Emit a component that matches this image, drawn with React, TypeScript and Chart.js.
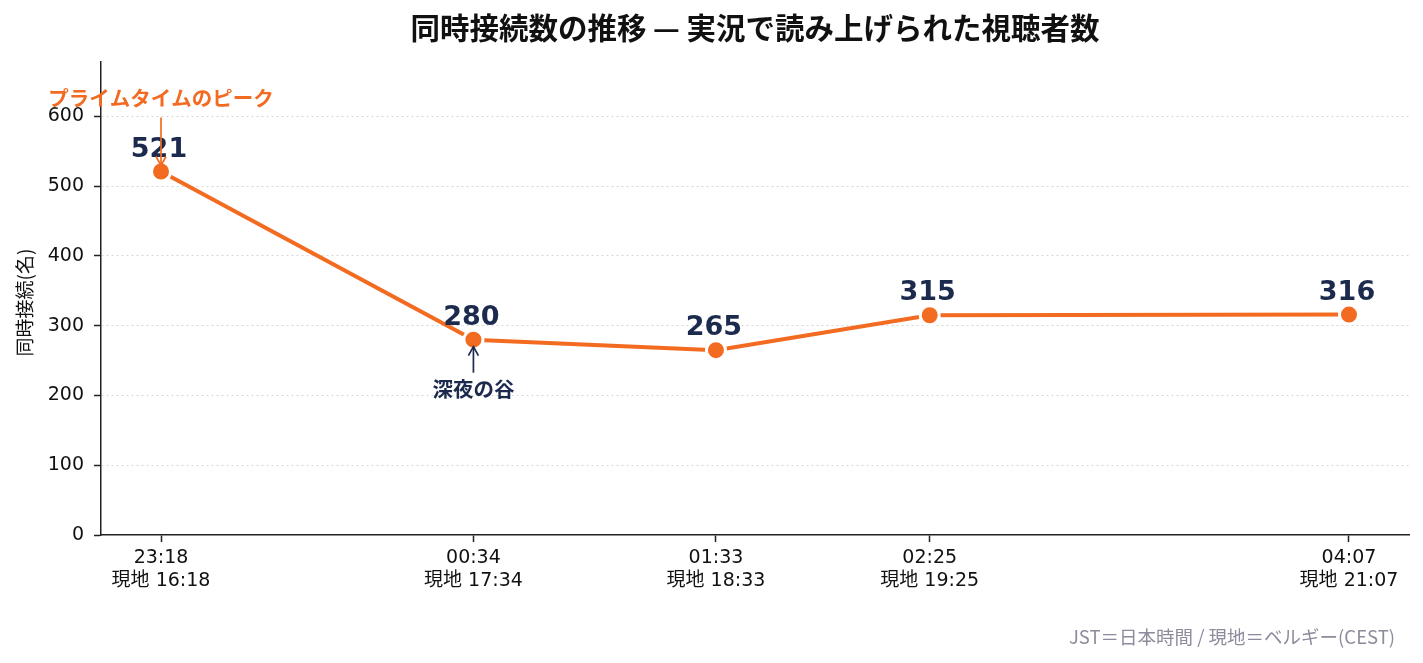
import { useEffect, useRef } from "react";
import { Chart, registerables } from "chart.js";

Chart.register(...registerables);

// JST times, local (Belgium, CEST) times and concurrent viewers
const jstTimes = ["23:18", "00:34", "01:33", "02:25", "04:07"];
const localTimes = ["16:18", "17:34", "18:33", "19:25", "21:07"];
const viewers = [521, 280, 265, 315, 316];

const titleText = "同時接続数の推移 — 実況で読み上げられた視聴者数";
const yTitleText = "同時接続(名)";
const peakNote = "プライムタイムのピーク";
const valleyNote = "深夜の谷";
const footnote = "JST＝日本時間 / 現地＝ベルギー(CEST)";

const ORANGE = "#f26b21";
const NAVY = "#1c2a4d";
const JP = "'Noto Sans CJK JP', sans-serif";
const NUM = "'DejaVu Sans', 'Noto Sans CJK JP', sans-serif";

function toMinutes(t: string) {
  const [h, m] = t.split(":").map(Number);
  return (h < 12 ? h + 24 : h) * 60 + m;
}
const xMinutes = jstTimes.map((t) => toMinutes(t) - toMinutes(jstTimes[0]));

function arrow(ctx: CanvasRenderingContext2D, x: number, y1: number, y2: number, color: string) {
  const dir = Math.sign(y2 - y1);
  ctx.save();
  ctx.strokeStyle = color;
  ctx.lineWidth = 1.7;
  ctx.beginPath();
  ctx.moveTo(x, y1);
  ctx.lineTo(x, y2);
  ctx.stroke();
  ctx.beginPath();
  ctx.moveTo(x - 5, y2 - dir * 9);
  ctx.lineTo(x, y2);
  ctx.lineTo(x + 5, y2 - dir * 9);
  ctx.stroke();
  ctx.restore();
}

const overlay = {
  id: "overlay",
  afterDraw(chart: Chart) {
    const { ctx, chartArea } = chart;
    const pts = chart.getDatasetMeta(0).data;
    ctx.save();

    // title
    ctx.fillStyle = "#111";
    ctx.font = `bold 29.5px ${JP}`;
    ctx.textAlign = "center";
    ctx.textBaseline = "middle";
    ctx.fillText(titleText, (chartArea.left + chartArea.right) / 2, 28);

    // y axis title
    ctx.save();
    ctx.translate(25, (chartArea.top + chartArea.bottom) / 2 + 4);
    ctx.rotate(-Math.PI / 2);
    ctx.font = `19px ${JP}`;
    ctx.fillText(yTitleText, 0, 0);
    ctx.restore();

    // value labels
    ctx.fillStyle = NAVY;
    ctx.font = `bold 27px ${NUM}`;
    ctx.textBaseline = "alphabetic";
    pts.forEach((p: any, i: number) => {
      ctx.fillText(String(viewers[i]), p.x - 2, p.y - 15);
    });

    // annotations
    const peak = pts[0] as any;
    ctx.fillStyle = ORANGE;
    ctx.font = `bold 20.5px ${JP}`;
    ctx.textBaseline = "middle";
    ctx.fillText(peakNote, peak.x, peak.y - 73);
    arrow(ctx, peak.x, peak.y - 54, peak.y - 6, ORANGE);

    const valley = pts[1] as any;
    ctx.fillStyle = NAVY;
    ctx.fillText(valleyNote, valley.x, valley.y + 50);
    arrow(ctx, valley.x, valley.y + 33, valley.y + 7, NAVY);

    // footnote
    ctx.fillStyle = "#8c8c9c";
    ctx.font = `18.5px ${JP}`;
    ctx.textAlign = "right";
    ctx.fillText(footnote, 1395, 637);
    ctx.restore();
  },
};

export default function App() {
  const canvasRef = useRef<HTMLCanvasElement>(null);
  const chartRef = useRef<Chart | null>(null);

  useEffect(() => {
    if (!canvasRef.current) return;
    if (chartRef.current) chartRef.current.destroy();

    chartRef.current = new Chart(canvasRef.current, {
      type: "line",
      data: {
        datasets: [
          {
            data: xMinutes.map((x, i) => ({ x, y: viewers[i] })),
            borderColor: ORANGE,
            borderWidth: 4,
            backgroundColor: ORANGE,
            pointBackgroundColor: ORANGE,
            pointBorderColor: "#fff",
            pointBorderWidth: 3,
            pointRadius: 9.5,
            tension: 0,
          },
        ],
      },
      options: {
        animation: false,
        responsive: true,
        maintainAspectRatio: false,
        layout: { padding: { top: 62, right: 14, left: 0, bottom: 0 } },
        plugins: { legend: { display: false }, tooltip: { enabled: false } },
        scales: {
          x: {
            type: "linear",
            min: -14.6,
            max: 303.6,
            afterBuildTicks: (scale: any) => {
              scale.ticks = xMinutes.map((v) => ({ value: v }));
            },
            afterFit: (scale: any) => {
              scale.height = 128;
            },
            grid: { drawOnChartArea: false, tickLength: 7, tickColor: "#222", tickWidth: 1.5 },
            border: { color: "#222", width: 1.5 },
            ticks: {
              autoSkip: false,
              maxRotation: 0,
              padding: 5,
              color: "#111",
              font: { family: NUM, size: 19, lineHeight: 1.2 },
              callback: (value: any) => {
                const i = xMinutes.indexOf(Number(value));
                return i < 0 ? "" : [jstTimes[i], `現地 ${localTimes[i]}`];
              },
            },
          },
          y: {
            min: 0,
            max: 678,
            afterBuildTicks: (scale: any) => {
              scale.ticks = scale.ticks.filter((t: any) => t.value % 100 === 0);
            },
            afterFit: (scale: any) => {
              scale.width = 101;
            },
            grid: {
              color: (c: any) => (c.tick && c.tick.value === 0 ? "rgba(0,0,0,0)" : "#d6d6d6"),
              tickBorderDash: [],
              tickLength: 7,
              tickColor: "#222",
              tickWidth: 1.5,
            },
            border: { color: "#222", width: 1.5, dash: [2, 3] },
            ticks: {
              stepSize: 100,
              padding: 10,
              color: "#111",
              font: { family: NUM, size: 19 },
            },
          },
        },
      } as any,
      plugins: [overlay],
    });

    return () => {
      if (chartRef.current) {
        chartRef.current.destroy();
        chartRef.current = null;
      }
    };
  }, []);

  return (
    <div style={{ position: "fixed", left: 0, top: 0, width: 1423, height: 663, background: "#fff" }}>
      <canvas ref={canvasRef} />
    </div>
  );
}
